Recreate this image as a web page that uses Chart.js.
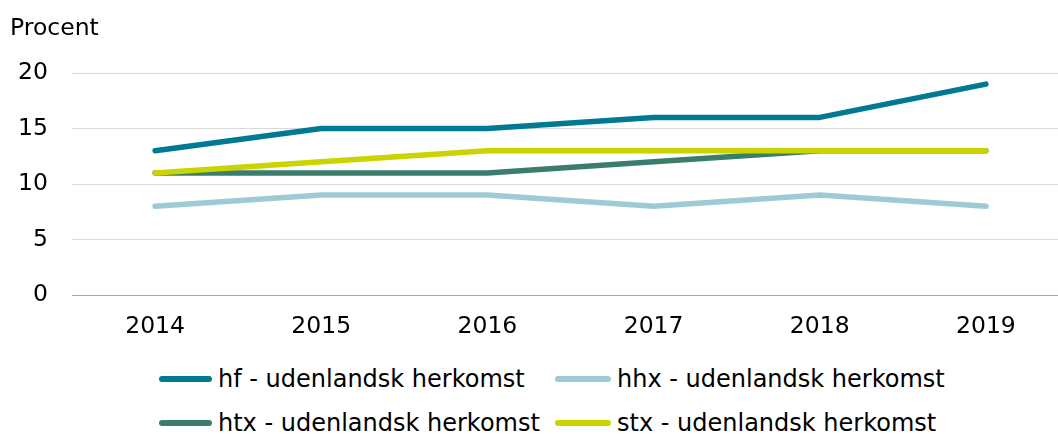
<!DOCTYPE html>
<html>
<head>
<meta charset="utf-8">
<script src="https://cdn.jsdelivr.net/npm/chart.js@4"></script>
<style>
  html, body { margin: 0; padding: 0; background: #fff; overflow: hidden; }
  #wrap { position: relative; width: 1058px; height: 434px; overflow: hidden; font-family: "DejaVu Sans", Verdana, sans-serif; color: #000; }
  #cv { position: absolute; left: 0; top: 0; }
  #ylab { position: absolute; left: 10px; top: 13px; font-size: 23.5px; }
  .leg { position: absolute; display: flex; align-items: center; font-size: 24px; white-space: nowrap; }
  .sw { width: 52px; height: 6px; border-radius: 3px; margin-right: 6px; }
</style>
</head>
<body>
<div id="wrap">
  <canvas id="cv" width="1069" height="360" style="width:1069px;height:360px"></canvas>
  <div id="ylab">Procent</div>
  <div id="legend"></div>
</div>
<script>
const years = ["2014", "2015", "2016", "2017", "2018", "2019"];
const hf  = [13, 15, 15, 16, 16, 19];
const hhx = [8, 9, 9, 8, 9, 8];
const htx = [11, 11, 11, 12, 13, 13];
const stx = [11, 12, 13, 13, 13, 13];
const seriesNames = ["hf - udenlandsk herkomst", "hhx - udenlandsk herkomst", "htx - udenlandsk herkomst", "stx - udenlandsk herkomst"];
const yTicks = [0, 5, 10, 15, 20];

const colors = ["#007a93", "#9ccbd6", "#3b7d6d", "#c9d400"];
const dataArr = [hf, hhx, htx, stx];
const orders = [3, 2, 1, 0];

const datasets = dataArr.map((d, i) => ({
  label: seriesNames[i],
  data: d,
  borderColor: colors[i],
  backgroundColor: colors[i],
  borderWidth: 5.5,
  pointRadius: 0,
  tension: 0,
  borderCapStyle: 'round',
  borderJoinStyle: 'round',
  fill: false,
  order: orders[i]
}));

new Chart(document.getElementById('cv'), {
  type: 'line',
  data: { labels: years, datasets },
  options: {
    responsive: false,
    animation: false,
    layout: { padding: { top: 73, right: 0, left: 0, bottom: 0 } },
    plugins: { legend: { display: false }, tooltip: { enabled: false }, title: { display: false } },
    scales: {
      x: {
        offset: true,
        grid: { display: false, drawTicks: false },
        border: { display: true, color: '#a6a6a6', width: 1 },
        ticks: { color: '#000', font: { family: 'DejaVu Sans', size: 23.5 }, padding: 18, maxRotation: 0 },
        afterFit: (s) => { s.height = 65; }
      },
      y: {
        min: 0, max: 20,
        afterBuildTicks: (s) => { s.ticks = yTicks.map(v => ({ value: v })); },
        grid: { color: '#d9d9d9', lineWidth: 1, drawTicks: false },
        border: { display: false },
        ticks: { color: '#000', font: { family: 'DejaVu Sans', size: 23.5 }, padding: 24 },
        afterFit: (s) => { s.width = 72; }
      }
    }
  }
});

const legPos = [
  { x: 159, y: 379 }, { x: 555, y: 379 },
  { x: 159, y: 423 }, { x: 555, y: 423 }
];
const sw = [53, 56, 53, 56];
const legend = document.getElementById('legend');
seriesNames.forEach((n, i) => {
  const el = document.createElement('div');
  el.className = 'leg';
  el.style.left = legPos[i].x + 'px';
  el.style.top = (legPos[i].y - 14) + 'px';
  el.style.height = '28px';
  el.innerHTML = '<div class="sw" style="background:' + colors[i] + ';width:' + sw[i] + 'px"></div><span>' + n + '</span>';
  legend.appendChild(el);
});
</script>
</body>
</html>
